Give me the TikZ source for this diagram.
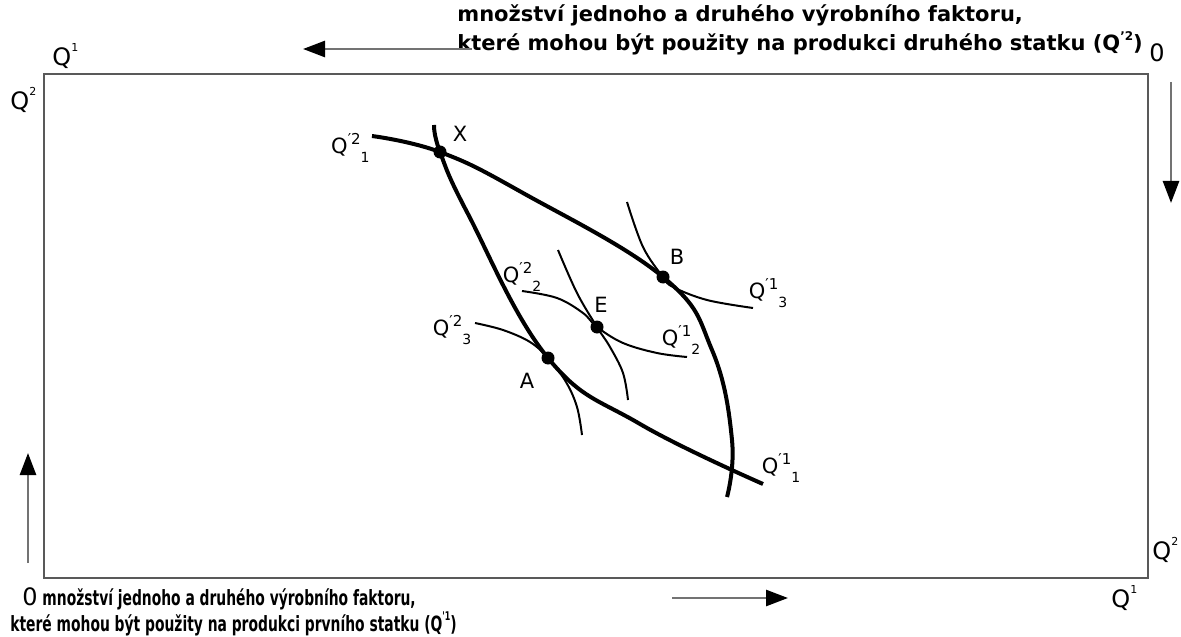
\documentclass[tikz,border=0pt]{standalone}
\usepackage{fontspec}
\setmainfont{DejaVu Sans}
\newfontfamily\narrowfont[FakeStretch=0.66]{DejaVu Sans}
\usetikzlibrary{arrows.meta}

\newcommand{\qlab}[2]{Q\raisebox{0.8ex}{\fontsize{7.5}{7.5}\selectfont ′#1}\raisebox{-0.8ex}{\fontsize{7}{7}\selectfont #2}}
\newcommand{\qcorner}[1]{Q\raisebox{1.1ex}{\fontsize{5.5}{5.5}\selectfont #1}}
\newcommand{\qgood}[1]{Q\raisebox{0.9ex}{\fontsize{6}{6}\selectfont '#1}}

\tikzset{
  box/.style={draw=black!65, line width=1pt},
  dir/.style={draw=black!55, line width=1.3pt, -{Triangle[length=11pt,width=8pt,color=black]}},
  thickcurve/.style={line width=2pt},
  thincurve/.style={line width=1pt},
  dot/.style={circle, fill, inner sep=0pt, minimum size=6.5pt},
  lab/.style={font=\fontsize{10.5}{12}\selectfont, inner sep=0pt},
  corner/.style={font=\fontsize{12}{12}\selectfont, inner sep=0pt},
  note/.style={font=\bfseries\fontsize{10.5}{14.5}\selectfont, align=left, inner sep=0pt}
}

\begin{document}
\begin{tikzpicture}[x=0.5pt, y=-0.5pt]
\useasboundingbox (0,0) rectangle (1181,636);
%\draw[help lines, step=50] (0,0) grid (1181,636);

% Box
\draw[box] (44,74) rectangle (1148,578);

\node[corner, anchor=west] (q1tl) at (52,56) {\qcorner{1}};
\node[corner, anchor=west] (q2tl) at (10,100) {\qcorner{2}};
\node[corner] (otr) at (1157,53) {0};
\node[corner, anchor=west] (q2br) at (1152,550) {\qcorner{2}};
\node[corner, anchor=west] (q1br) at (1111,598) {\qcorner{1}};

% Texts
\node[note, anchor=base west] (toptext) at (457,51) {množství jednoho a druhého výrobního faktoru,\\
které mohou být použity na produkci druhého statku (\qgood{2})};
\node[note, font=\narrowfont\bfseries\fontsize{10.5}{11.5}\selectfont, anchor=base west] (bottext) at (10,631) {\hspace*{6pt}{\mdseries\fontspec{DejaVu Sans}\fontsize{12}{11}\selectfont 0} množství jednoho a druhého výrobního faktoru,\\
které mohou být použity na produkci prvního statku (\qgood{1})};

% Arrows
\coordinate (ta1) at (472,49);  \coordinate (ta2) at (303,49);
\coordinate (ra1) at (1171,82); \coordinate (ra2) at (1171,203);
\coordinate (la1) at (28,563);  \coordinate (la2) at (28,453);
\coordinate (ba1) at (672,598); \coordinate (ba2) at (788,598);
\draw[dir] (ta1) -- (ta2);
\draw[dir] (ra1) -- (ra2);
\draw[dir] (la1) -- (la2);
\draw[dir] (ba1) -- (ba2);

% Points
\node[dot] (X) at (440,152) {};
\node[dot] (B) at (663,277) {};
\node[dot] (E) at (597,327) {};
\node[dot] (A) at (548,358) {};

% Curves
\draw[thickcurve] plot[smooth, tension=0.7] coordinates {(372,136) (X) (523,193) (B) (712,350) (732,440) (727,497)};
\draw[thickcurve] plot[smooth, tension=0.7] coordinates {(434,125) (X) (468,214) (A) (640,424) (763,484)};

\draw[thincurve] plot[smooth, tension=0.6] coordinates {(475,323) (503,330) (530,342) (A) (566,382) (577,407) (582,435)};
\draw[thincurve] plot[smooth, tension=0.6] coordinates {(522,291) (557,298) (583,313) (E) (623,343) (657,353) (687,357)};
\draw[thincurve] plot[smooth, tension=0.6] coordinates {(558,250) (577,293) (E) (610,347) (623,373) (628,400)};
\draw[thincurve] plot[smooth, tension=0.6] coordinates {(627,202) (643,247) (B) (673,287) (707,300) (753,308)};

% Labels
\node[lab] (Xl) at (460,134) {X};
\node[lab] (Bl) at (677,257) {B};
\node[lab] (El) at (601,305) {E};
\node[lab] (Al) at (527,381) {A};
\node[lab, anchor=east] (q21) at (370,148) {\qlab{2}{1}};
\node[lab] (q22) at (522,277) {\qlab{2}{2}};
\node[lab] (q23) at (452,330) {\qlab{2}{3}};
\node[lab] (q11) at (781,468) {\qlab{1}{1}};
\node[lab] (q12) at (681,340) {\qlab{1}{2}};
\node[lab] (q13) at (768,293) {\qlab{1}{3}};

\end{tikzpicture}
\end{document}
